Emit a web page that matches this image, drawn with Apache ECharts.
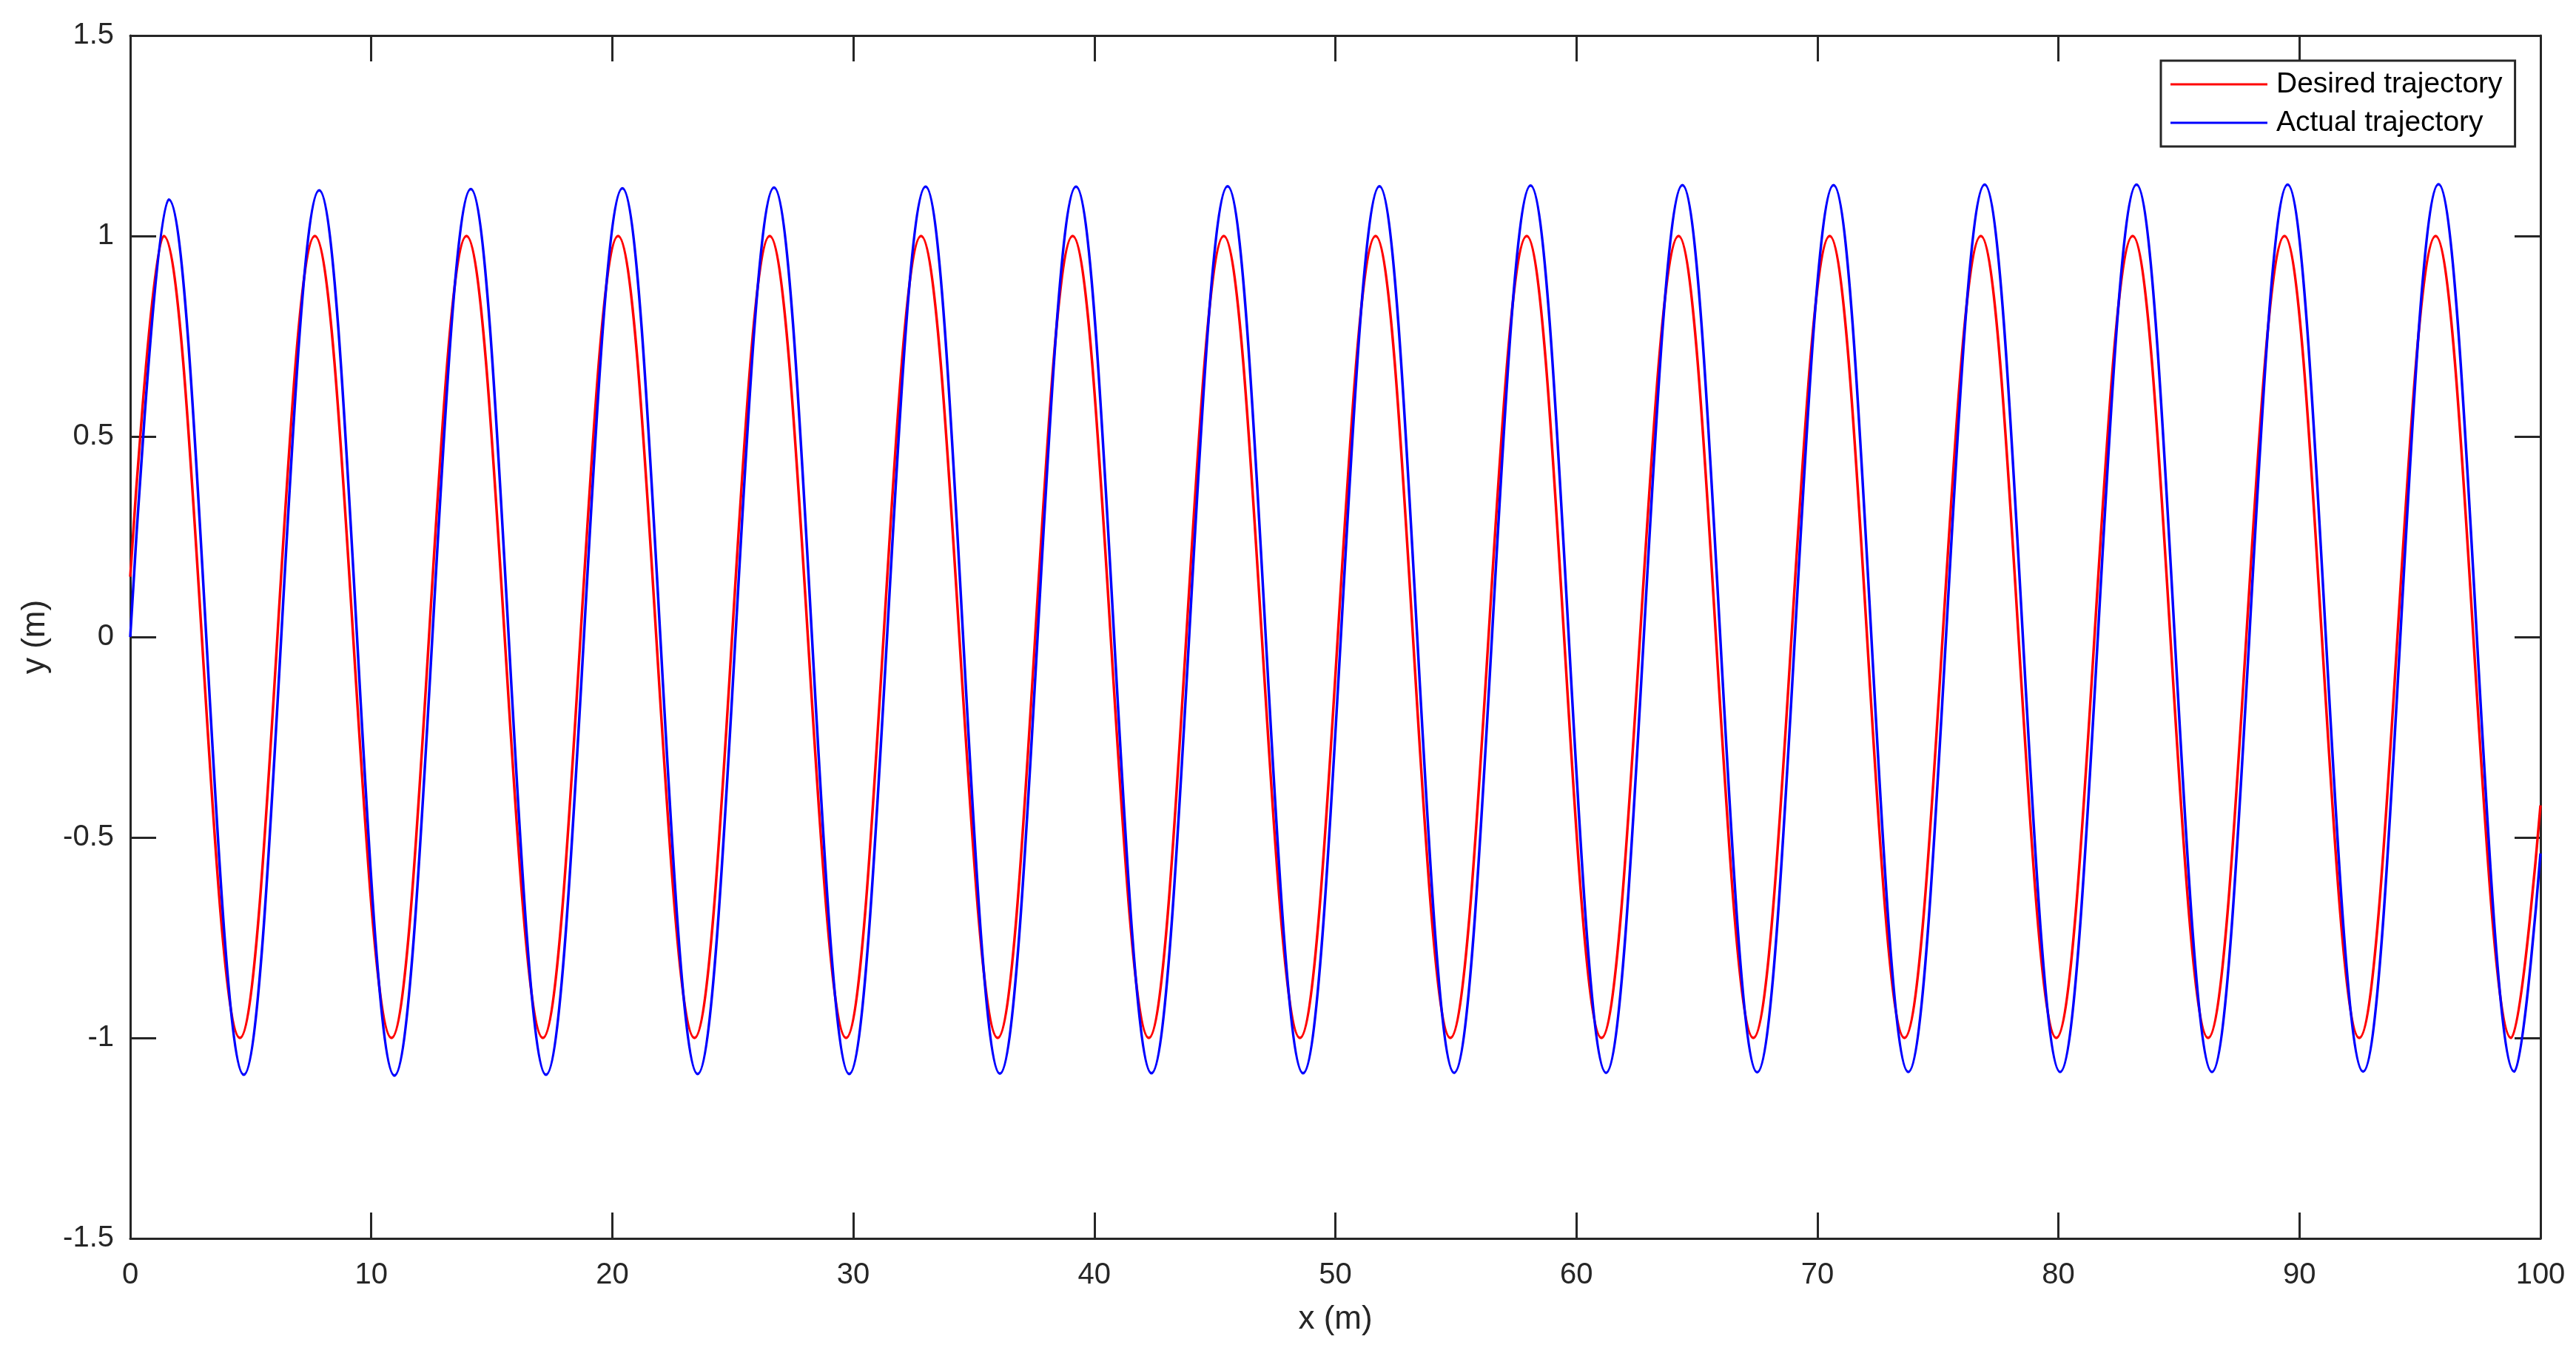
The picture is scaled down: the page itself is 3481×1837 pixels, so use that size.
<!DOCTYPE html>
<html>
<head>
<meta charset="utf-8">
<title>Desired vs actual trajectory</title>
<script src="https://cdn.jsdelivr.net/npm/echarts@6/dist/echarts.min.js"></script>
<style>
  html, body { margin: 0; padding: 0; background: #fff; }
  #chart { width: 3481px; height: 1837px; }
</style>
</head>
<body>
<div id="chart"></div>
<script>
// values: crests, troughs and the two ends of each curve
const xTicks = [0, 10, 20, 30, 40, 50, 60, 70, 80, 90, 100];
const yTicks = [-1.5, -1, -0.5, 0, 0.5, 1, 1.5];

// Desired trajectory (red)
const desiredStart = [0, 0.15];
const desiredEnd = [100, -0.42];
const desiredPeakX = [1.39, 7.66, 13.95, 20.24, 26.53, 32.81, 39.10, 45.37, 51.67, 57.94, 64.24, 70.51, 76.78, 83.08, 89.38, 95.65];
const desiredPeakY = [1, 1, 1, 1, 1, 1, 1, 1, 1, 1, 1, 1, 1, 1, 1, 1];
const desiredTroughX = [4.55, 10.84, 17.12, 23.41, 29.70, 35.99, 42.26, 48.53, 54.77, 61.04, 67.34, 73.61, 79.91, 86.21, 92.48, 98.78];
const desiredTroughY = [-1, -1, -1, -1, -1, -1, -1, -1, -1, -1, -1, -1, -1, -1, -1, -1];

// Actual trajectory (blue)
const actualStart = [0, 0];
const actualEnd = [100, -0.54];
const actualPeakX = [1.60, 7.84, 14.13, 20.42, 26.71, 33.00, 39.24, 45.53, 51.83, 58.10, 64.40, 70.67, 76.94, 83.24, 89.51, 95.77];
const actualPeakY = [1.091, 1.114, 1.117, 1.119, 1.121, 1.123, 1.123, 1.124, 1.124, 1.126, 1.127, 1.127, 1.128, 1.128, 1.128, 1.129];
const actualTroughX = [4.71, 10.96, 17.25, 23.54, 29.83, 36.08, 42.37, 48.66, 54.93, 61.23, 67.50, 73.77, 80.07, 86.37, 92.64, 98.91];
const actualTroughY = [-1.092, -1.094, -1.092, -1.090, -1.090, -1.089, -1.088, -1.088, -1.087, -1.087, -1.086, -1.085, -1.085, -1.085, -1.084, -1.084];

// join start, crests, troughs and end into one list ordered by x
function buildPoints(start, peakX, peakY, troughX, troughY, end) {
  const pts = [start.slice()];
  peakX.forEach((x, i) => pts.push([x, peakY[i]]));
  troughX.forEach((x, i) => pts.push([x, troughY[i]]));
  pts.push(end.slice());
  pts.sort((a, b) => a[0] - b[0]);
  return pts;
}

const desiredData = buildPoints(desiredStart, desiredPeakX, desiredPeakY, desiredTroughX, desiredTroughY, desiredEnd);
const actualData = buildPoints(actualStart, actualPeakX, actualPeakY, actualTroughX, actualTroughY, actualEnd);

const FONT = "'Liberation Sans', Arial, Helvetica, sans-serif";
const AXIS_COLOR = '#262626';

const axisLine = { show: true, onZero: false, lineStyle: { color: AXIS_COLOR, width: 3 } };
const axisTick = { show: true, inside: true, length: 35, lineStyle: { color: AXIS_COLOR, width: 3 } };

const chart = echarts.init(document.getElementById('chart'));

chart.setOption({
  animation: false,
  backgroundColor: '#fff',
  grid: { left: 176, right: 48, top: 48, bottom: 163, containLabel: false },
  legend: {
    orient: 'vertical',
    left: 2920,
    top: 82,
    padding: [12, 17, 12, 13],
    itemGap: 12,
    itemWidth: 131,
    itemHeight: 3,
    icon: 'rect',
    backgroundColor: '#fff',
    borderColor: AXIS_COLOR,
    borderWidth: 3,
    borderRadius: 0,
    textStyle: { fontFamily: FONT, fontSize: 39, color: '#000', lineHeight: 40, padding: [0, 0, 0, 7] },
    data: ['Desired trajectory', 'Actual trajectory']
  },
  xAxis: [
    {
      type: 'value',
      min: xTicks[0],
      max: xTicks[xTicks.length - 1],
      interval: 10,
      position: 'bottom',
      name: 'x (m)',
      nameLocation: 'middle',
      nameGap: 88,
      nameTextStyle: { fontFamily: FONT, fontSize: 44, color: AXIS_COLOR },
      axisLine: axisLine,
      axisTick: axisTick,
      axisLabel: { fontFamily: FONT, fontSize: 40, color: AXIS_COLOR, margin: 30 },
      splitLine: { show: false }
    },
    {
      type: 'value',
      min: xTicks[0],
      max: xTicks[xTicks.length - 1],
      interval: 10,
      position: 'top',
      axisLine: axisLine,
      axisTick: axisTick,
      axisLabel: { show: false },
      splitLine: { show: false }
    }
  ],
  yAxis: [
    {
      type: 'value',
      min: yTicks[0],
      max: yTicks[yTicks.length - 1],
      interval: 0.5,
      position: 'left',
      name: 'y (m)',
      nameLocation: 'middle',
      nameGap: 106,
      nameTextStyle: { fontFamily: FONT, fontSize: 44, color: AXIS_COLOR },
      axisLine: axisLine,
      axisTick: axisTick,
      axisLabel: { fontFamily: FONT, fontSize: 40, color: AXIS_COLOR, margin: 22 },
      splitLine: { show: false }
    },
    {
      type: 'value',
      min: yTicks[0],
      max: yTicks[yTicks.length - 1],
      interval: 0.5,
      position: 'right',
      axisLine: axisLine,
      axisTick: axisTick,
      axisLabel: { show: false },
      splitLine: { show: false }
    }
  ],
  series: [
    {
      name: 'Desired trajectory',
      type: 'line',
      data: desiredData,
      xAxisIndex: 0,
      yAxisIndex: 0,
      symbol: 'none',
      smooth: 0.35,
      smoothMonotone: 'x',
      color: '#ff0000',
      lineStyle: { color: '#ff0000', width: 3.5 },
      z: 2
    },
    {
      name: 'Actual trajectory',
      type: 'line',
      data: actualData,
      xAxisIndex: 0,
      yAxisIndex: 0,
      symbol: 'none',
      smooth: 0.35,
      smoothMonotone: 'x',
      color: '#0000ff',
      lineStyle: { color: '#0000ff', width: 3.5 },
      z: 3
    }
  ]
});
</script>
</body>
</html>
